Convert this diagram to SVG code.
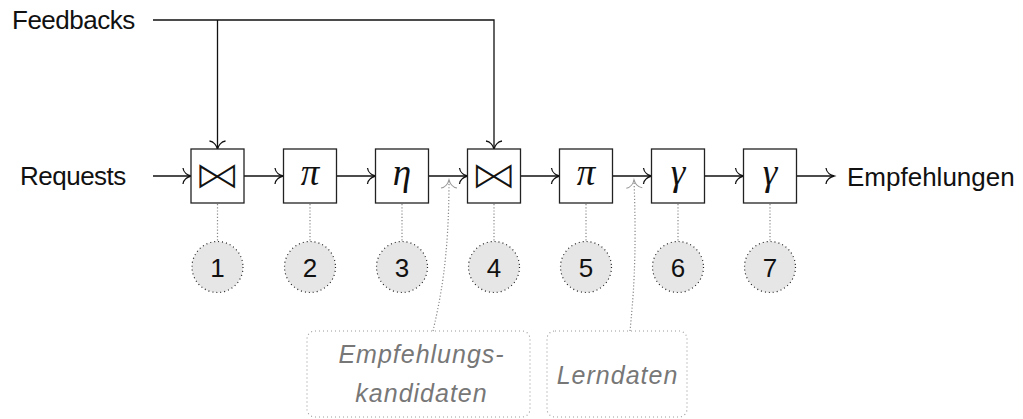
<svg xmlns="http://www.w3.org/2000/svg" width="1023" height="419" viewBox="0 0 1023 419">
<style>
.box{fill:#fff;stroke:#222;stroke-width:1.3}
.ln{fill:none;stroke:#111;stroke-width:1.3}
.dl{fill:none;stroke:#888;stroke-width:1.2;stroke-dasharray:1.2 2}
.circ{fill:#e6e6e6;stroke:#222;stroke-width:1.2;stroke-dasharray:1 3}
.lab{fill:none;stroke:#999;stroke-width:1.1;stroke-dasharray:1 3}
.t{font-family:"Liberation Sans",Arial,sans-serif;font-size:26px;fill:#111}
.num{font-family:"Liberation Sans",Arial,sans-serif;font-size:26px;fill:#111;text-anchor:middle}
.g{font-family:"Liberation Serif","Times New Roman",serif;font-style:italic;font-size:37px;fill:#111;text-anchor:middle}
.bt{font-family:"DejaVu Sans",sans-serif;font-size:40px;fill:#111;stroke:#fff;stroke-width:1.5;text-anchor:middle}
.it{font-family:"Liberation Sans",Arial,sans-serif;font-style:italic;font-size:25px;fill:#777;text-anchor:middle;letter-spacing:1px}
</style>
<defs>
<marker id="to" markerUnits="userSpaceOnUse" viewBox="-10 -10 12 20" refX="0" refY="0" markerWidth="12" markerHeight="20" orient="auto" overflow="visible">
<path d="M-8,-8 C-7.5,-3.5 -3,-0.8 0,0 C-3,0.8 -7.5,3.5 -8,8" fill="none" stroke="#111" stroke-width="1.3"/>
</marker>
<marker id="tog" markerUnits="userSpaceOnUse" viewBox="-10 -10 12 20" refX="0" refY="0" markerWidth="12" markerHeight="20" orient="auto" overflow="visible">
<path d="M-8,-8 C-7.5,-3.5 -3,-0.8 0,0 C-3,0.8 -7.5,3.5 -8,8" fill="none" stroke="#999" stroke-width="1.1"/>
</marker>
</defs>

<g id="connectors">
<line class="ln" x1="153" y1="176" x2="191" y2="176" marker-end="url(#to)"/>
<line class="ln" x1="244" y1="176" x2="283" y2="176" marker-end="url(#to)"/>
<line class="ln" x1="336.5" y1="176" x2="375.5" y2="176" marker-end="url(#to)"/>
<line class="ln" x1="428.5" y1="176" x2="467.5" y2="176" marker-end="url(#to)"/>
<line class="ln" x1="520.5" y1="176" x2="559.5" y2="176" marker-end="url(#to)"/>
<line class="ln" x1="612.5" y1="176" x2="651.5" y2="176" marker-end="url(#to)"/>
<line class="ln" x1="704.5" y1="176" x2="743.5" y2="176" marker-end="url(#to)"/>
<line class="ln" x1="796.5" y1="176" x2="834" y2="176" marker-end="url(#to)"/>
<path class="ln" d="M153,20 H494 V149" marker-end="url(#to)"/>
<path class="ln" d="M217.5,20 V149" marker-end="url(#to)"/>
<line class="dl" x1="217.5" y1="204" x2="217.5" y2="241"/>
<line class="dl" x1="310" y1="204" x2="310" y2="241"/>
<line class="dl" x1="402" y1="204" x2="402" y2="241"/>
<line class="dl" x1="494" y1="204" x2="494" y2="241"/>
<line class="dl" x1="586" y1="204" x2="586" y2="241"/>
<line class="dl" x1="678" y1="204" x2="678" y2="241"/>
<line class="dl" x1="770" y1="204" x2="770" y2="241"/>
<path class="dl" d="M433,331 C440,300 449,260 449,180" marker-end="url(#tog)"/>
<path class="dl" d="M630,331 C633,300 637,260 634,180" marker-end="url(#tog)"/>
</g>

<g id="n1"><rect class="box" x="191" y="149" width="53" height="54"/><text class="bt" x="0" y="0" transform="translate(217.5,189) scale(1.2,1)">⋈</text></g>
<g id="n2"><rect class="box" x="283.5" y="149" width="53" height="54"/><text class="g" x="310" y="185">π</text></g>
<g id="n3"><rect class="box" x="375.5" y="149" width="53" height="54"/><text class="g" x="402" y="185">η</text></g>
<g id="n4"><rect class="box" x="467.5" y="149" width="53" height="54"/><text class="bt" x="0" y="0" transform="translate(494,189) scale(1.2,1)">⋈</text></g>
<g id="n5"><rect class="box" x="559.5" y="149" width="53" height="54"/><text class="g" x="586" y="185">π</text></g>
<g id="n6"><rect class="box" x="651.5" y="149" width="53" height="54"/><text class="g" x="678" y="185">γ</text></g>
<g id="n7"><rect class="box" x="743.5" y="149" width="53" height="54"/><text class="g" x="770" y="185">γ</text></g>

<g id="c1"><circle class="circ" cx="217.5" cy="267" r="25.5"/><text class="num" x="217.5" y="276.5">1</text></g>
<g id="c2"><circle class="circ" cx="310" cy="267" r="25.5"/><text class="num" x="310" y="276.5">2</text></g>
<g id="c3"><circle class="circ" cx="402" cy="267" r="25.5"/><text class="num" x="402" y="276.5">3</text></g>
<g id="c4"><circle class="circ" cx="494" cy="267" r="25.5"/><text class="num" x="494" y="276.5">4</text></g>
<g id="c5"><circle class="circ" cx="586" cy="267" r="25.5"/><text class="num" x="586" y="276.5">5</text></g>
<g id="c6"><circle class="circ" cx="678" cy="267" r="25.5"/><text class="num" x="678" y="276.5">6</text></g>
<g id="c7"><circle class="circ" cx="770" cy="267" r="25.5"/><text class="num" x="770" y="276.5">7</text></g>

<g id="requests"><text class="t" x="20" y="185" letter-spacing="-0.5">Requests</text></g>
<g id="feedbacks"><text class="t" x="12" y="29" letter-spacing="-0.5">Feedbacks</text></g>
<g id="empfehlungen"><text class="t" x="847" y="186">Empfehlungen</text></g>

<g id="label-kandidaten"><rect class="lab" x="307" y="331" width="223" height="86" rx="8"/><text class="it" x="421.5" y="363">Empfehlungs-</text><text class="it" x="421.5" y="402">kandidaten</text></g>
<g id="label-lerndaten"><rect class="lab" x="547" y="331" width="140" height="86" rx="8"/><text class="it" x="617.5" y="384">Lerndaten</text></g>
</svg>
